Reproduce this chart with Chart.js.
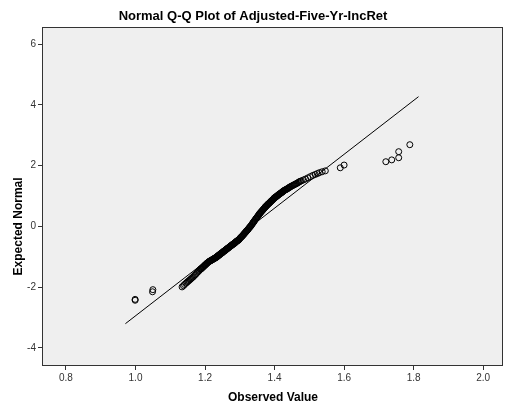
<!DOCTYPE html>
<html>
<head>
<meta charset="utf-8">
<script src="https://cdn.jsdelivr.net/npm/chart.js@4.4.0/dist/chart.umd.min.js"></script>
<style>
  html, body { margin: 0; padding: 0; background: #fff; }
  canvas { display: block; }
</style>
</head>
<body>
<canvas id="qq" width="508" height="406"></canvas>
<script>
const chartTitle = "Normal Q-Q Plot of Adjusted-Five-Yr-IncRet";
const xTitle = "Observed Value";
const yTitle = "Expected Normal";

const xTicks = [0.8, 1.0, 1.2, 1.4, 1.6, 1.8, 2.0];
const yTicks = [-4, -2, 0, 2, 4, 6];

const observed = [0.999, 0.999, 1.049, 1.050,
  1.134, 1.138, 1.141, 1.145, 1.148, 1.151, 1.154, 1.157, 1.160,
  1.163, 1.166, 1.169, 1.172, 1.175, 1.178, 1.181, 1.183, 1.186,
  1.189, 1.192, 1.195, 1.198, 1.201, 1.204, 1.207, 1.211,
  1.214, 1.217, 1.220, 1.223, 1.226, 1.229, 1.232, 1.234,
  1.237, 1.240, 1.243, 1.246, 1.249, 1.252, 1.255, 1.258, 1.261, 1.264, 1.267, 1.271,
  1.274, 1.277, 1.280, 1.283, 1.286, 1.289, 1.292, 1.295, 1.297,
  1.300, 1.303, 1.306, 1.309, 1.312, 1.315, 1.318, 1.320, 1.323,
  1.326, 1.329, 1.332, 1.335, 1.338, 1.340,
  1.343, 1.346, 1.349, 1.352, 1.355, 1.357,
  1.360, 1.363, 1.366, 1.369, 1.372, 1.374,
  1.377, 1.380, 1.383, 1.386, 1.389, 1.392, 1.395, 1.398, 1.400,
  1.403, 1.406, 1.409, 1.412, 1.415, 1.418, 1.421, 1.424, 1.426,
  1.430, 1.434, 1.438, 1.442, 1.446, 1.451,
  1.456, 1.461, 1.466, 1.471, 1.477,
  1.483, 1.489, 1.496, 1.503,
  1.510, 1.517, 1.523, 1.529,
  1.537, 1.546,
  1.589, 1.600,
  1.720, 1.737, 1.757, 1.757, 1.789,
  // dense middle of the band
  1.1875, 1.1905, 1.1935, 1.1965, 1.1995, 1.2025, 1.2055, 1.209,
  1.2125, 1.2155, 1.2185, 1.2215, 1.2245, 1.2275, 1.2305, 1.233,
  1.2355, 1.2385, 1.2415, 1.2445, 1.2475, 1.2505, 1.2535, 1.2565, 1.2595, 1.2625, 1.2655, 1.269,
  1.2725, 1.2755, 1.2785, 1.2815, 1.2845, 1.2875, 1.2905, 1.2935, 1.296,
  1.2985, 1.3015, 1.3045, 1.3075, 1.3105, 1.3135, 1.3165, 1.319, 1.3215,
  1.3245, 1.3275, 1.3305, 1.3335, 1.3365, 1.339,
  1.3415, 1.3445, 1.3475, 1.3505, 1.3535, 1.356,
  1.3585, 1.3615, 1.3645, 1.3675, 1.3705, 1.373,
  1.3755, 1.3785, 1.3815, 1.3845, 1.3875, 1.3905, 1.3935, 1.3965, 1.399,
  1.4015, 1.4045, 1.4075, 1.4105, 1.4135, 1.4165, 1.4195, 1.4225, 1.425,
  1.428, 1.432, 1.436, 1.440, 1.444, 1.4485,
  1.4535, 1.4585, 1.4635, 1.4685, 1.474];

const expected = [-2.43, -2.40, -2.15, -2.08,
  -1.99, -1.95, -1.91, -1.87, -1.84, -1.81, -1.78, -1.75, -1.72,
  -1.69, -1.66, -1.62, -1.59, -1.55, -1.51, -1.48, -1.45, -1.42,
  -1.39, -1.36, -1.33, -1.29, -1.26, -1.23, -1.20, -1.16,
  -1.14, -1.12, -1.10, -1.08, -1.06, -1.04, -1.02, -1.00,
  -0.97, -0.95, -0.92, -0.89, -0.87, -0.84, -0.81, -0.79, -0.76, -0.73, -0.71, -0.67,
  -0.64, -0.62, -0.59, -0.57, -0.54, -0.51, -0.48, -0.46, -0.44,
  -0.40, -0.36, -0.33, -0.29, -0.25, -0.21, -0.17, -0.14, -0.11,
  -0.06, -0.02, 0.02, 0.07, 0.12, 0.15,
  0.20, 0.25, 0.29, 0.34, 0.39, 0.42,
  0.46, 0.50, 0.54, 0.58, 0.62, 0.65,
  0.68, 0.72, 0.75, 0.78, 0.82, 0.85, 0.88, 0.92, 0.94,
  0.97, 0.99, 1.02, 1.05, 1.07, 1.10, 1.12, 1.15, 1.17,
  1.20, 1.22, 1.25, 1.28, 1.31, 1.34,
  1.37, 1.40, 1.43, 1.47, 1.50,
  1.53, 1.56, 1.60, 1.64,
  1.68, 1.71, 1.74, 1.77,
  1.80, 1.83,
  1.93, 2.02,
  2.13, 2.19, 2.26, 2.46, 2.69,
  // dense middle of the band
  -1.40, -1.38, -1.34, -1.31, -1.28, -1.25, -1.21, -1.18,
  -1.15, -1.13, -1.11, -1.09, -1.07, -1.05, -1.03, -1.01,
  -0.99, -0.96, -0.935, -0.905, -0.88, -0.855, -0.825, -0.80, -0.775, -0.745, -0.72, -0.69,
  -0.655, -0.63, -0.605, -0.58, -0.555, -0.525, -0.495, -0.47, -0.45,
  -0.42, -0.38, -0.345, -0.31, -0.27, -0.23, -0.19, -0.155, -0.125,
  -0.085, -0.04, 0.00, 0.045, 0.095, 0.135,
  0.175, 0.225, 0.27, 0.315, 0.365, 0.405,
  0.44, 0.48, 0.52, 0.56, 0.60, 0.635,
  0.665, 0.70, 0.735, 0.765, 0.80, 0.835, 0.865, 0.90, 0.93,
  0.955, 0.98, 1.005, 1.035, 1.06, 1.085, 1.11, 1.135, 1.16,
  1.185, 1.21, 1.235, 1.265, 1.295, 1.325,
  1.355, 1.385, 1.415, 1.45, 1.485];

// reference line end points
const lineX = [0.971, 1.814];
const lineY = [-3.2, 4.27];

const fontFamily = "'Liberation Sans', Arial, sans-serif";

const plotFrame = {
  id: "plotFrame",
  beforeDraw(chart) {
    const { ctx, chartArea: a } = chart;
    ctx.save();
    ctx.fillStyle = "#efefef";
    ctx.fillRect(a.left, a.top, a.right - a.left, a.bottom - a.top);
    ctx.restore();
  },
  afterDraw(chart) {
    const { ctx, chartArea: a } = chart;
    ctx.save();
    ctx.strokeStyle = "#333";
    ctx.lineWidth = 1;
    ctx.strokeRect(Math.round(a.left) - 0.5, Math.round(a.top) + 0.5,
      Math.round(a.right - a.left), Math.round(a.bottom - a.top));
    // y axis title, centred near the zero line like the original
    ctx.translate(19, chart.scales.y.getPixelForValue(0));
    ctx.rotate(-Math.PI / 2);
    ctx.font = "bold 12px " + fontFamily;
    ctx.fillStyle = "#000";
    ctx.textAlign = "center";
    ctx.textBaseline = "middle";
    ctx.fillText(yTitle, 0, 0);
    ctx.restore();
  }
};

const ctx = document.getElementById("qq").getContext("2d");
new Chart(ctx, {
  data: {
    datasets: [
      {
        type: "scatter",
        data: observed.map((v, i) => ({ x: v, y: expected[i] })),
        pointStyle: "circle",
        pointRadius: 3,
        borderWidth: 1,
        borderColor: "#000",
        backgroundColor: "rgba(0,0,0,0)"
      },
      {
        type: "line",
        data: lineX.map((v, i) => ({ x: v, y: lineY[i] })),
        borderColor: "#000",
        borderWidth: 1,
        pointRadius: 0,
        fill: false
      }
    ]
  },
  options: {
    responsive: false,
    animation: false,
    layout: { padding: { left: 0, right: 2, top: 0, bottom: 0 } },
    plugins: {
      legend: { display: false },
      tooltip: { enabled: false },
      title: {
        display: true,
        text: chartTitle,
        color: "#000",
        font: { family: fontFamily, size: 13, weight: "bold" },
        padding: { top: 9, bottom: 2.5 }
      }
    },
    scales: {
      x: {
        type: "linear",
        min: 0.734,
        max: 2.057,
        afterFit(s) { s.height = 41; },
        afterBuildTicks(s) { s.ticks = xTicks.map(v => ({ value: v })); },
        grid: { drawOnChartArea: false, drawTicks: true, tickLength: 5, color: "#333" },
        border: { display: false },
        ticks: {
          padding: 2,
          color: "#333",
          font: { family: fontFamily, size: 10 },
          callback: v => v.toFixed(1)
        },
        title: {
          display: true,
          text: xTitle,
          color: "#000",
          font: { family: fontFamily, size: 12, weight: "bold" },
          padding: { top: 0, bottom: 1 }
        }
      },
      y: {
        type: "linear",
        min: -4.56,
        max: 6.56,
        afterFit(s) { s.width = 43; },
        afterBuildTicks(s) { s.ticks = yTicks.map(v => ({ value: v })); },
        grid: { drawOnChartArea: false, drawTicks: true, tickLength: 5, color: "#333" },
        border: { display: false },
        ticks: {
          padding: 2,
          color: "#333",
          font: { family: fontFamily, size: 10 },
          callback: v => String(v)
        }
      }
    }
  },
  plugins: [plotFrame]
});
</script>
</body>
</html>
